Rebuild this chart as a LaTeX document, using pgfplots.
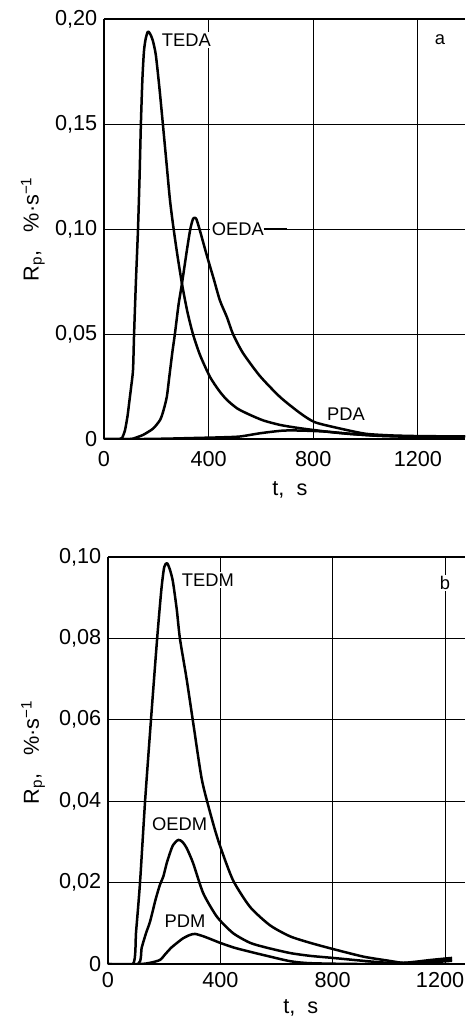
\documentclass[border=0pt]{standalone}
\usepackage{fontspec}
\setmainfont{Liberation Sans}
\usepackage{pgfplots}
\pgfplotsset{compat=1.18}

\pgfplotsset{
  panel/.style={
    scale only axis,
    axis y line*=left, axis x line*=box,
    axis line style={line width=0.9pt},
    grid=major, grid style={line width=0.6pt, black},
    major tick length=0pt,
    tick label style={font=\fontsize{13}{15}\selectfont},
    yticklabel style={xshift=-0.5pt},
    label style={font=\fontsize{13}{15}\selectfont},
    xtick={0,400,800,1200},
    xmin=0, ymin=0,
  },
  curve/.style={black, line width=1.5pt, mark=none, line join=round, smooth, tension=0.4},
}
\tikzset{lbl/.style={font=\fontsize{11}{13}\selectfont, fill=white, inner sep=1pt}}

\begin{document}
\begin{tikzpicture}
\path[use as bounding box] (0,0) rectangle (279pt,-610.8pt);

% panel a
\begin{axis}[panel,
  at={(62.4pt,-263.4pt)}, anchor=south west,
  width=216.6pt, height=252pt,
  xmax=1380, ymax=0.20,
  xticklabels={0,400,800,1200},
  xticklabel style={yshift=-4pt},
  ytick={0,0.05,0.10,0.15,0.20},
  yticklabels={0,{0,05},{0,10},{0,15},{0,20}},
  xlabel={t,\ \ s},
  ylabel={R\textsubscript{p},\ \ \ \%·s\textsuperscript{−1}},
  xlabel style={at={(rel axis cs:0.515,0)}, anchor=center, yshift=-30.6pt},
  ylabel style={at={(rel axis cs:-0.197,0.5)}, anchor=center},
]
% TEDA
\addplot[curve] coordinates {
(0,0) (60,0) (69,0.0005) (80,0.004) (90,0.011) (96,0.017) (104,0.025) (111,0.033)
(115,0.05) (122,0.075) (130,0.100) (136,0.125) (141,0.150) (147,0.172) (153,0.185)
(160,0.191) (168,0.194) (176,0.193) (186,0.190) (198,0.183) (212,0.167) (225,0.150)
(240,0.130) (252,0.114) (264,0.102) (280,0.088) (298,0.074) (318,0.061) (340,0.050)
(367,0.040) (405,0.0296) (440,0.023) (470,0.0186) (510,0.0145) (558,0.0115)
(610,0.0088) (673,0.0067) (740,0.0053) (800,0.0043) (880,0.0031) (950,0.0023)
(1050,0.0016) (1200,0.0012) (1380,0.0012)
};
% OEDA
\addplot[curve] coordinates {
(0,0) (100,0) (118,0.0005) (150,0.002) (188,0.005) (214,0.009) (226,0.013)
(240,0.020) (250,0.030) (262,0.042) (271,0.050) (285,0.064) (298,0.074) (317,0.090)
(330,0.100) (341,0.105) (352,0.105) (365,0.100) (394,0.087) (420,0.076) (443,0.066)
(470,0.058) (493,0.050) (531,0.041) (596,0.030) (673,0.020) (749,0.0124) (806,0.008)
(902,0.005) (1000,0.0025) (1100,0.0017) (1200,0.0014) (1380,0.0012)
};
% PDA
\addplot[curve] coordinates {
(0,0) (150,0) (250,0.0002) (350,0.0005) (450,0.0008) (520,0.0012) (600,0.0028)
(685,0.0040) (760,0.0040) (850,0.0035) (950,0.0024) (1050,0.0015) (1200,0.001)
(1380,0.0012)
};
\node[lbl, anchor=west] at (axis cs:214,0.19) {TEDA};
\node[lbl, anchor=west] at (axis cs:405,0.10) {OEDA};
\draw[line width=1pt] (axis cs:610,0.10) -- (axis cs:700,0.10);
\node[lbl, anchor=center] at (axis cs:925,0.012) {PDA};
\node[lbl, anchor=center] at (axis cs:1284,0.19) {a};
\end{axis}

% panel b
\begin{axis}[panel,
  at={(64.8pt,-578.4pt)}, anchor=south west,
  width=214.2pt, height=244.2pt,
  xmax=1271, ymax=0.10,
  xticklabels={0,400,800,\kern-6pt 1200},
  xticklabel style={yshift=-1.5pt},
  ytick={0,0.02,0.04,0.06,0.08,0.10},
  yticklabels={0,{0,02},{0,04},{0,06},{0,08},{0,10}},
  xlabel={t,\ \ s},
  ylabel={R\textsubscript{p},\ \ \ \%·s\textsuperscript{−1}},
  xlabel style={at={(rel axis cs:0.54,0)}, anchor=center, yshift=-26.4pt},
  ylabel style={at={(rel axis cs:-0.21,0.52)}, anchor=center},
]
% TEDM
\addplot[curve] coordinates {
(0,0) (89,0) (100,0.008) (114,0.02) (132,0.04) (153,0.06) (175,0.08) (190,0.092)
(200,0.0975) (210,0.0985) (220,0.097) (231,0.094) (245,0.087) (256,0.080) (280,0.070)
(306,0.058) (335,0.045) (374,0.0346) (399,0.029) (445,0.0206) (506,0.014) (577,0.0095)
(648,0.0068) (720,0.0052) (800,0.0037) (910,0.0018) (1000,0.0008) (1050,0.0003)
(1100,0.0006) (1150,0.0010) (1225,0.0015)
};
% OEDM
\addplot[curve] coordinates {
(0,0) (107,0) (120,0.004) (135,0.0075) (150,0.0105) (170,0.016) (185,0.0195)
(197,0.0215) (210,0.025) (230,0.029) (250,0.0305) (265,0.030) (280,0.0285)
(303,0.0248) (339,0.0174) (388,0.0116) (445,0.0076) (506,0.0052) (566,0.0040)
(648,0.0027) (720,0.0020) (800,0.0015) (922,0.0007) (1000,0.0003) (1100,0.0003)
(1225,0.001)
};
% PDM
\addplot[curve] coordinates {
(0,0) (114,0) (150,0.0003) (185,0.001) (205,0.0025) (225,0.0040) (246,0.0052)
(267,0.0063) (290,0.0071) (310,0.0074) (340,0.0068) (370,0.0060) (399,0.0052)
(450,0.0040) (506,0.0030) (566,0.0020) (648,0.0007) (720,0.0002) (900,0)
(1100,0.0002) (1225,0.0008)
};
\node[lbl, anchor=west] at (axis cs:256,0.0943) {TEDM};
\node[lbl, anchor=west] at (axis cs:150,0.0343) {OEDM};
\node[lbl, anchor=center] at (axis cs:274,0.0106) {PDM};
\node[lbl, anchor=center] at (axis cs:1200,0.0936) {b};
\end{axis}
\end{tikzpicture}
\end{document}
